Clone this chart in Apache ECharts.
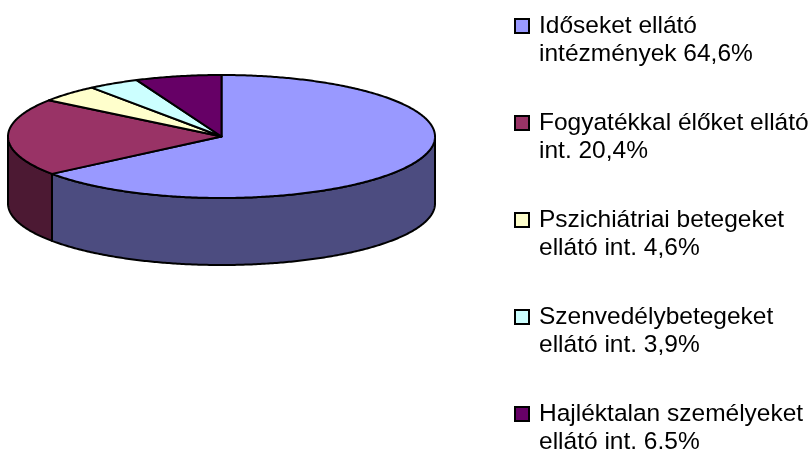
<!DOCTYPE html>
<html>
<head>
<meta charset="utf-8">
<script src="https://cdn.jsdelivr.net/npm/echarts@6/dist/echarts.min.js"></script>
<style>
  html, body { margin: 0; padding: 0; background: #fff; }
  #main { width: 811px; height: 449px; }
</style>
</head>
<body>
<div id="main"></div>
<script>
// adatok
const categories = [
  'Időseket ellátó\nintézmények',
  'Fogyatékkal élőket ellátó\nint.',
  'Pszichiátriai betegeket\nellátó int.',
  'Szenvedélybetegeket\nellátó int.',
  'Hajléktalan személyeket\nellátó int.'
];
const values = [64.6, 20.4, 4.6, 3.9, 6.5];
const valueLabels = ['64,6%', '20,4%', '4,6%', '3,9%', '6.5%'];

const topColors = ['#9999FF', '#993366', '#FFFFCC', '#CCFFFF', '#660066'];
const sideColors = ['#4C4C80', '#4C1933', '#808066', '#668080', '#330033'];

// pie geometry (px)
const cx = 221.5, cy = 136.5, rx = 213.5, ry = 61.5, depth = 67;
const total = values.reduce((a, b) => a + b, 0);

function renderSlice(params, api) {
  const start = api.value(0);
  const val = api.value(1);
  const idx = api.value(2);
  const a0 = start / total * Math.PI * 2;
  const a1 = (start + val) / total * Math.PI * 2;
  const pt = (a, dy) => [cx + rx * Math.sin(a), cy - ry * Math.cos(a) + dy];
  const arc = (s, e, dy) => {
    const n = Math.max(2, Math.ceil((e - s) / 0.01));
    const pts = [];
    for (let i = 0; i <= n; i++) pts.push(pt(s + (e - s) * i / n, dy));
    return pts;
  };
  const children = [];
  // front wall
  const s = Math.max(a0, Math.PI / 2), e = Math.min(a1, Math.PI * 1.5);
  if (e > s) {
    children.push({
      type: 'polygon',
      z2: 1,
      shape: { points: arc(s, e, 0).concat(arc(s, e, depth).reverse()) },
      style: { fill: sideColors[idx], stroke: '#000', lineWidth: 2, lineJoin: 'round' }
    });
  }
  // top face
  children.push({
    type: 'polygon',
    z2: 10,
    shape: { points: [[cx, cy]].concat(arc(a0, a1, 0)) },
    style: { fill: topColors[idx], stroke: '#000', lineWidth: 2, lineJoin: 'round' }
  });
  return { type: 'group', children };
}

const myChart = echarts.init(document.getElementById('main'));
let acc = 0;
const seriesArr = categories.map((name, i) => {
  const item = [acc, values[i], i];
  acc += values[i];
  return {
    name: name,
    type: 'custom',
    coordinateSystem: 'none',
    renderItem: renderSlice,
    itemStyle: { color: topColors[i] },
    data: [item],
    silent: true
  };
});

const option = {
  backgroundColor: '#fff',
  animation: false,
  legend: {
    orient: 'vertical',
    left: 514,
    top: -16,
    height: 600,
    padding: 0,
    itemWidth: 14,
    itemHeight: 14,
    itemGap: 13,
    selectedMode: false,
    icon: 'rect',
    itemStyle: { borderColor: '#000', borderWidth: 2 },
    data: categories,
    formatter: name => '\n' + name + ' ' + valueLabels[categories.indexOf(name)],
    textStyle: {
      fontFamily: 'Liberation Sans, Arial, sans-serif',
      fontSize: 24.5,
      lineHeight: 28,
      color: '#000',
      padding: [0, 0, 0, 5]
    }
  },
  series: seriesArr
};
option && myChart.setOption(option);
window.addEventListener('resize', () => {
  if (myChart) myChart.resize();
});
</script>
</body>
</html>
